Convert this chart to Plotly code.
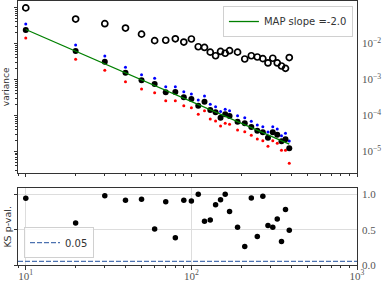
import numpy as np
import plotly.graph_objects as go

# ---- data ----
n_samples = [10, 20, 30, 40, 50, 60, 70, 80, 90, 100, 110, 120, 130, 140, 150, 160, 170,
             190, 210, 230, 250, 270, 290, 310, 330, 350, 370, 390]

log_var_open = [-1.01, -1.32, -1.45, -1.57, -1.74, -1.92, -1.91, -1.87, -1.96, -1.875, -2.09,
                -2.11, -2.24, -2.34, -2.22, -2.27, -2.20, -2.24, -2.43, -2.34, -2.375, -2.42,
                -2.54, -2.41, -2.54, -2.625, -2.69, -2.39]
log_var_black = [-1.625, -2.208, -2.506, -2.811, -3.022, -3.125, -3.356, -3.347, -3.494, -3.542,
                 -3.728, -3.617, -3.847, -3.911, -4.061, -3.967, -4.014, -4.172, -4.217, -4.319,
                 -4.422, -4.467, -4.617, -4.467, -4.533, -4.717, -4.661, -4.911]
log_var_blue = [-1.458, -2.042, -2.347, -2.661, -2.867, -2.967, -3.20, -3.20, -3.339, -3.403,
                -3.569, -3.458, -3.689, -3.756, -3.889, -3.828, -3.867, -4.006, -4.061, -4.161,
                -4.264, -4.311, -4.458, -4.311, -4.375, -4.561, -4.494, -4.708]
log_var_red = [-1.847, -2.439, -2.744, -3.061, -3.264, -3.367, -3.589, -3.589, -3.728, -3.783,
               -3.967, -3.867, -4.097, -4.153, -4.292, -4.217, -4.244, -4.403, -4.450, -4.550,
               -4.653, -4.700, -4.856, -4.700, -4.772, -4.967, -4.967, -5.328]

ks_pval = [0.943, 0.594, 0.98, 0.914, 0.929, 0.509, 0.894, 0.386, 0.914, 0.904, 1.0,
           0.619, 0.637, 0.851, 0.923, 1.0, 0.757, 0.533, 0.261, 0.947, 0.404, 0.971,
           0.557, 0.533, 0.651, 0.333, 0.786, 0.49]

map_slope = -2.0
map_prefactor = 2.45
ks_threshold = 0.05

top_ytick_vals = [1e-1, 1e-2, 1e-3, 1e-4, 1e-5]
top_ytick_text = ["10<sup>−1</sup>", "10<sup>−2</sup>", "10<sup>−3</sup>", "10<sup>−4</sup>", "10<sup>−5</sup>"]
x_tick_vals = [10, 100, 1000]
x_tick_text = ["10<sup>1</sup>", "10<sup>2</sup>", "10<sup>3</sup>"]
ks_tick_vals = [0.0, 0.5, 1.0]
ks_tick_text = ["0.0", "0.5", "1.0"]

# ---- derived ----
x = np.array(n_samples, dtype=float)
v_open = 10 ** np.array(log_var_open)
v_black = 10 ** np.array(log_var_black)
v_blue = 10 ** np.array(log_var_blue)
v_red = 10 ** np.array(log_var_red)
v_fit = map_prefactor * x ** map_slope

x_minor = [k * 10 ** d for d in range(0, 3) for k in range(2, 10)]
y_minor = [k * 10.0 ** d for d in range(-6, 0) for k in range(2, 10)]

fig = go.Figure()
fig.add_trace(go.Scatter(x=x, y=v_open, mode="markers", xaxis="x", yaxis="y",
                         marker=dict(symbol="circle-open", size=6, color="black", line=dict(width=1.7)),
                         showlegend=False))
fig.add_trace(go.Scatter(x=x, y=v_blue, mode="markers", xaxis="x", yaxis="y",
                         marker=dict(symbol="circle", size=3, color="blue"), showlegend=False))
fig.add_trace(go.Scatter(x=x, y=v_red, mode="markers", xaxis="x", yaxis="y",
                         marker=dict(symbol="circle", size=3, color="red"), showlegend=False))
fig.add_trace(go.Scatter(x=x, y=v_black, mode="markers", xaxis="x", yaxis="y",
                         marker=dict(symbol="circle", size=6, color="black"), showlegend=False))
fig.add_trace(go.Scatter(x=x, y=v_fit, mode="lines", xaxis="x", yaxis="y",
                         line=dict(color="green", width=1.3),
                         name="MAP slope =" + str(map_slope), legend="legend"))
# right-side label axes (empty traces so the axes render)
fig.add_trace(go.Scatter(x=[None], y=[None], xaxis="x", yaxis="y3", showlegend=False, hoverinfo="skip"))
fig.add_trace(go.Scatter(x=[None], y=[None], xaxis="x2", yaxis="y4", showlegend=False, hoverinfo="skip"))

fig.add_trace(go.Scatter(x=x, y=ks_pval, mode="markers", xaxis="x2", yaxis="y2",
                         marker=dict(symbol="circle", size=5.5, color="black"), showlegend=False))

fig.add_shape(type="line", xref="x2 domain", yref="y2", x0=0, x1=1, y0=ks_threshold, y1=ks_threshold,
              line=dict(color="#4c72b0", width=1.2, dash="5px,2px"),
              showlegend=True, legend="legend2", name=str(ks_threshold))

axis_col = "#333333"
tick_font = dict(family="Liberation Serif, DejaVu Serif, serif", size=11, color="#555555")
xr = [0.953, 3.0]
top_yr = [-5.597, -0.819]
bot_yr = [0.0, 1.093]

common_x = dict(type="log", range=xr, showline=True, linecolor=axis_col, linewidth=1, mirror=True,
                ticks="outside", ticklen=3.5, tickcolor=axis_col, tickvals=x_tick_vals,
                minor=dict(ticks="outside", ticklen=2, tickcolor=axis_col, tickvals=x_minor, showgrid=False),
                zeroline=False, automargin=False)

fig.update_layout(
    width=390, height=283,
    margin=dict(l=18, r=33, t=1, b=18),
    paper_bgcolor="white", plot_bgcolor="white",
    xaxis=dict(**common_x, anchor="y", showticklabels=False, showgrid=False),
    yaxis=dict(type="log", range=top_yr, domain=[0.3485, 1.0], anchor="x",
               showline=True, linecolor=axis_col, linewidth=1, mirror=True,
               ticks="outside", ticklen=3.5, tickcolor=axis_col, tickvals=top_ytick_vals,
               showticklabels=False, showgrid=False, automargin=False,
               minor=dict(ticks="outside", ticklen=2, tickcolor=axis_col, tickvals=y_minor, showgrid=False)),
    yaxis3=dict(type="log", range=top_yr, overlaying="y", side="right", anchor="x",
                tickvals=top_ytick_vals, ticktext=top_ytick_text, ticks="", ticklabelstandoff=4,
                tickfont=tick_font, showgrid=False, showline=False, automargin=False),
    xaxis2=dict(**common_x, anchor="y2", ticktext=x_tick_text, tickfont=tick_font,
                ticklabelstandoff=-3, showgrid=True, gridcolor="#dddddd", gridwidth=1),
    yaxis2=dict(range=bot_yr, domain=[0.0, 0.2928], anchor="x2",
                showline=True, linecolor=axis_col, linewidth=1, mirror=True,
                ticks="outside", ticklen=3.5, tickcolor=axis_col, tickvals=ks_tick_vals,
                showticklabels=False, showgrid=True, gridcolor="#dddddd", gridwidth=1,
                zeroline=False, automargin=False),
    yaxis4=dict(range=bot_yr, overlaying="y2", side="right", anchor="x2",
                tickvals=ks_tick_vals, ticktext=ks_tick_text, ticks="", ticklabelstandoff=4,
                tickfont=tick_font, showgrid=False, showline=False,
                zeroline=False, automargin=False),
    legend=dict(x=0.988, y=0.981, xanchor="right", yanchor="top",
                bgcolor="rgba(255,255,255,0.8)", bordercolor="#d0d0d0", borderwidth=1,
                font=dict(family="DejaVu Sans", size=10, color="#333333"), itemwidth=30),
    legend2=dict(x=0.0177, y=0.026, xanchor="left", yanchor="bottom",
                 bgcolor="rgba(255,255,255,0.8)", bordercolor="#d0d0d0", borderwidth=1,
                 font=dict(family="DejaVu Sans", size=10, color="#333333"), itemwidth=30),
    annotations=[
        dict(text="variance", xref="paper", yref="paper", x=-0.035, y=0.674, xanchor="center",
             yanchor="middle", textangle=-90, showarrow=False,
             font=dict(family="DejaVu Sans", size=9, color="#333333")),
        dict(text="KS p-val.", xref="paper", yref="paper", x=-0.032, y=0.146, xanchor="center",
             yanchor="middle", textangle=-90, showarrow=False,
             font=dict(family="DejaVu Sans", size=9.5, color="#333333")),
    ],
)

fig.write_html("out.html", config={"displayModeBar": False},
               post_script="document.body.style.margin='0px';")
